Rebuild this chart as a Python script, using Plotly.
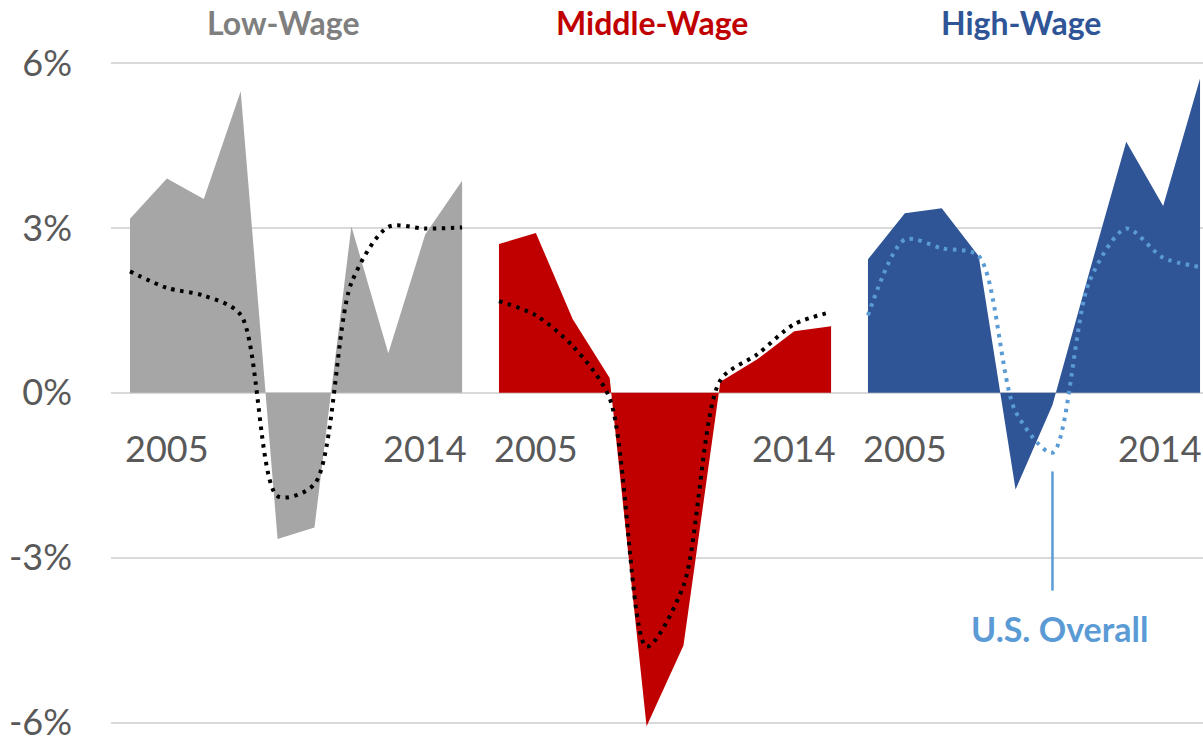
import plotly.graph_objects as go

# ---- data -------------------------------------------------------------
years = [2005, 2006, 2007, 2008, 2009, 2010, 2011, 2012, 2013, 2014]
panels = ["Low-Wage", "Middle-Wage", "High-Wage"]

low_wage = [3.17, 3.90, 3.53, 5.49, -2.66, -2.45, 3.03, 0.72, 2.88, 3.86]
middle_wage = [2.71, 2.91, 1.34, 0.27, -6.07, -4.60, 0.20, 0.61, 1.12, 1.21]
high_wage = [2.43, 3.27, 3.36, 2.49, -1.76, -0.22, 2.20, 4.57, 3.40, 5.72]

us_low = [2.21, 1.91, 1.77, 1.42, -1.88, -1.66, 2.00, 3.02, 2.99, 3.01]
us_middle = [1.67, 1.41, 0.85, -0.10, -4.62, -3.51, 0.23, 0.70, 1.25, 1.47]
us_high = [1.41, 2.79, 2.63, 2.49, -0.34, -1.09, 2.03, 2.99, 2.46, 2.29]

tick_labels = ["2005", "2014"]
y_ticks = [-6, -3, 0, 3, 6]
y_tick_text = ["-6%", "-3%", "0%", "3%", "6%"]

# ---- styling ----------------------------------------------------------
FONT = "Lato, 'Open Sans', sans-serif"
fill_colors = ["#A6A6A6", "#C00000", "#2F5597"]
title_colors = ["#7F7F7F", "#C00000", "#2F5597"]
dot_colors = ["#000000", "#000000", "#5B9BD5"]
series = [low_wage, middle_wage, high_wage]
overall = [us_low, us_middle, us_high]

fig = go.Figure()
n = len(years)
for p in range(len(panels)):
    xs = [p * n + i for i in range(n)]
    fig.add_trace(go.Scatter(
        x=xs, y=series[p], mode="lines", fill="tozeroy",
        fillcolor=fill_colors[p], line=dict(width=0, color=fill_colors[p]),
        hoverinfo="skip", showlegend=False))
for p in range(len(panels)):
    xs = [p * n + i for i in range(n)]
    fig.add_trace(go.Scatter(
        x=xs, y=overall[p], mode="lines",
        line=dict(color=dot_colors[p], width=4, dash="3.5px,5.5px",
                  shape="spline", smoothing=0.8),
        hoverinfo="skip", showlegend=False))

annotations = []
for p in range(len(panels)):
    annotations.append(dict(
        x=p * n + (n - 1) / 2 - 0.35, y=0.969, xref="x", yref="paper",
        text="<b>" + panels[p] + "</b>", showarrow=False,
        font=dict(family=FONT, size=32, color=title_colors[p]),
        xanchor="center", yanchor="middle"))
    for k, lab in enumerate(tick_labels):
        slot = 1 if k == 0 else n - 2
        last = (p == len(panels) - 1 and k == len(tick_labels) - 1)
        annotations.append(dict(
            x=p * n + slot, y=-1.0, xref="x", yref="y",
            text=lab, showarrow=False, xshift=-3 if last else 0,
            font=dict(family=FONT, size=36, color="#595959"),
            xanchor="center", yanchor="middle"))

min_idx = us_high.index(min(us_high))
annotations.append(dict(
    x=2 * n + min_idx + 0.2, y=0.150, xref="x", yref="paper",
    text="<b>U.S. Overall</b>", showarrow=False,
    font=dict(family=FONT, size=34, color="#5B9BD5"),
    xanchor="center", yanchor="middle"))

shapes = [dict(type="line", xref="x", yref="y",
               x0=2 * n + min_idx, x1=2 * n + min_idx, y0=-1.43, y1=-3.6,
               line=dict(color="#5B9BD5", width=2.5))]

fig.update_layout(
    width=1203, height=739,
    margin=dict(l=111, r=0, t=0, b=0, autoexpand=False),
    paper_bgcolor="white", plot_bgcolor="white",
    showlegend=False,
    annotations=annotations, shapes=shapes,
    xaxis=dict(range=[-0.515, 29.08], showgrid=False, zeroline=False,
               showticklabels=False, showline=False, fixedrange=True,
               automargin=False),
    yaxis=dict(range=[-6.3, 7.15], tickvals=y_ticks, ticktext=y_tick_text,
               showgrid=True, gridcolor="#D9D9D9", gridwidth=1.5,
               zeroline=True, zerolinecolor="#D9D9D9", zerolinewidth=1.5,
               showline=False, ticks="", ticklabelstandoff=38,
               ticklabeloverflow="allow",
               tickfont=dict(family=FONT, size=36, color="#595959"),
               fixedrange=True, automargin=False),
)

fig.write_html(
    "out.html",
    config={"displayModeBar": False},
    post_script="document.body.style.margin='0';"
                "document.body.style.overflow='hidden';",
)
